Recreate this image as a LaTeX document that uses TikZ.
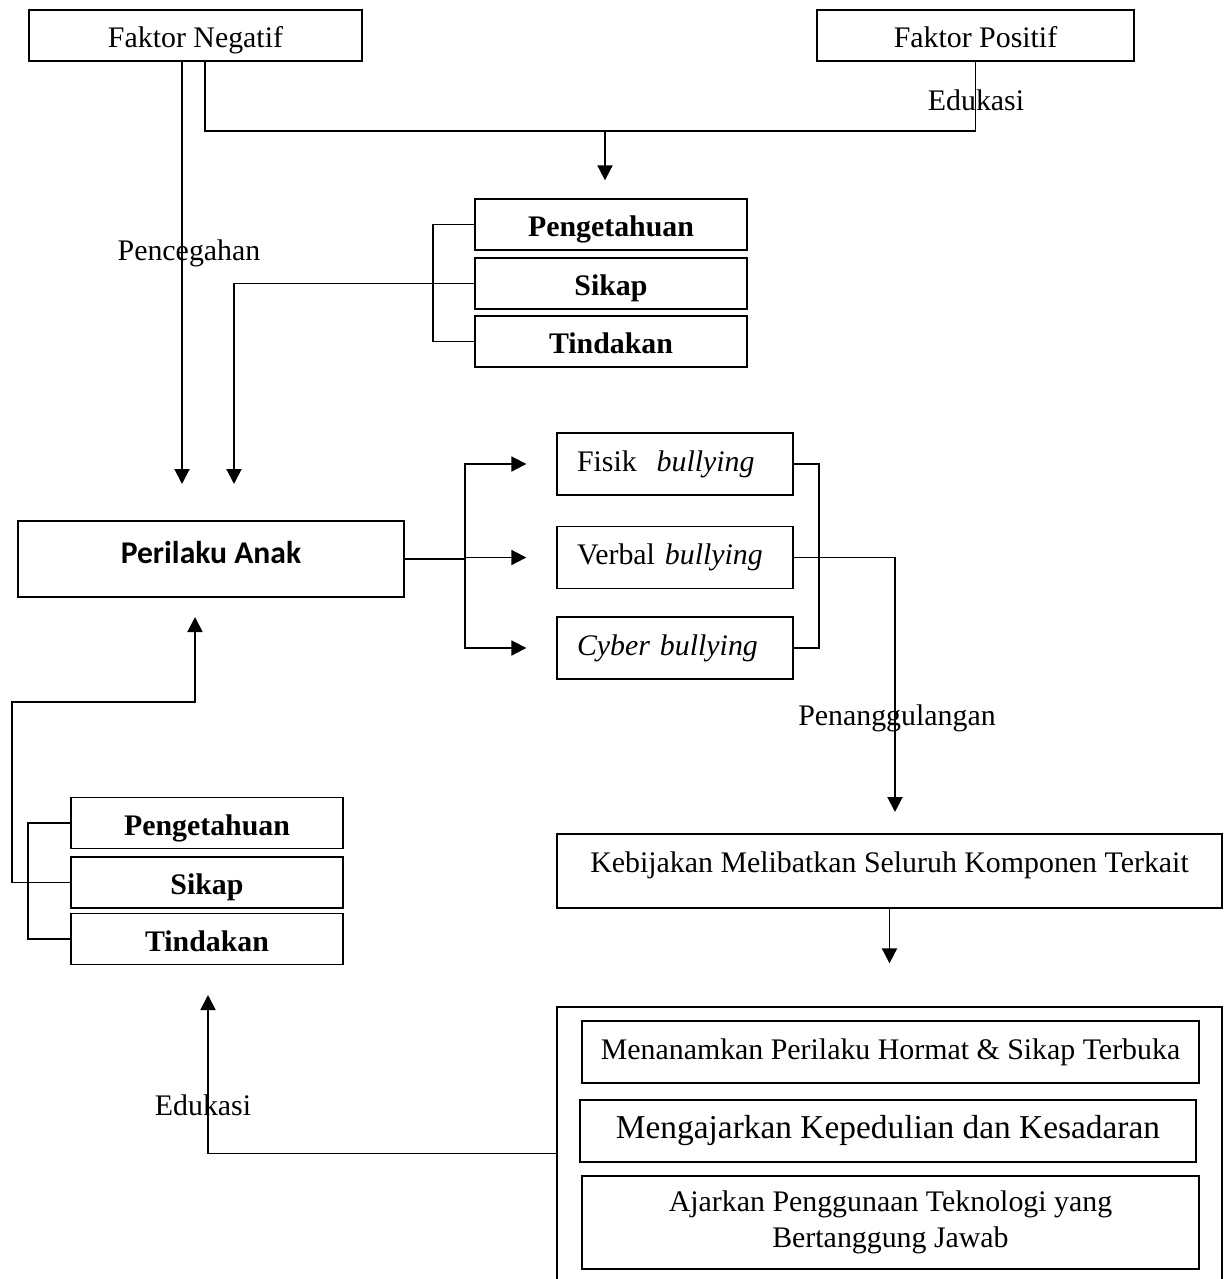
\documentclass[tikz,border=0pt]{standalone}
\usepackage{fontspec}
\setmainfont{Liberation Serif}
\newfontfamily\calibri{Carlito}
\usetikzlibrary{arrows.meta}

\begin{document}
\begin{tikzpicture}[
		x=0.02cm, y=-0.02cm,
		every node/.style={inner sep=0pt, font=\fontsize{17}{21}\selectfont},
		box/.style={draw, rectangle, line width=0.8pt},
		faktor/.style={box, minimum height=1.02cm, text height=17pt, text depth=3pt},
		pst/.style={box, minimum width=5.44cm, minimum height=1.02cm, text height=17pt, text depth=3pt, font=\fontsize{17}{21}\selectfont\bfseries},
		bully/.style={box, text width=3.92cm, inner xsep=0.4cm, minimum height=1.24cm, align=left},
		itembox/.style={box, minimum width=12.34cm, minimum height=1.24cm},
		link/.style={line width=1.1pt},
		arr/.style={link, -{Triangle[length=0.3cm, width=0.3cm]}}
	]
  \useasboundingbox (0,0) rectangle (1230,1279);
  \node (neg) [faktor, minimum width=6.66cm] at (195.5,35.5) {Faktor Negatif};
  \node (pos) [faktor, minimum width=6.34cm] at (975.5,35.5) {Faktor Positif};
  \node (pst_p) [pst] at (611,224.5) {Pengetahuan};
  \node (pst_s) [pst] at (611,283.5) {Sikap};
  \node (pst_t) [pst] at (611,341.5) {Tindakan};
  \node (perilaku) [box, minimum width=7.72cm, minimum height=1.52cm, text height=13pt, text depth=8.2pt, font=\fontsize{18}{22}\calibri\bfseries] at (211,559) {Perilaku Anak};
  \node (fisik) [bully] at (675,464) {Fisik\ \ \textit{bullying}};
  \node (verbal) [bully] at (675,557.5) {Verbal \textit{bullying}};
  \node (cyber) [bully] at (675,648) {\textit{Cyber bullying}};
  \node (kebijakan) [box, minimum width=13.3cm, minimum height=1.48cm, text height=12pt, text depth=9.9pt] at (889.5,871) {Kebijakan Melibatkan Seluruh Komponen Terkait};
  \node (strategi) [box, minimum width=13.3cm, minimum height=5.86cm] at (889.5,1153.5) {};
  \node (tanam) [itembox] at (890.5,1052) {Menanamkan Perilaku Hormat \& Sikap Terbuka};
  \node (ajar) [itembox, minimum width=12.32cm, font=\fontsize{19}{23}\selectfont] at (888,1131) {Mengajarkan Kepedulian dan Kesadaran};
  \node (teknologi) [itembox, minimum height=1.86cm, align=center, font=\fontsize{17}{20.5}\selectfont] at (890.5,1222.5) {Ajarkan Penggunaan Teknologi yang\\Bertanggung Jawab};
  \node (pst2_p) [pst] at (207,823) {Pengetahuan};
  \node (pst2_s) [pst] at (207,882.5) {Sikap};
  \node (pst2_t) [pst] at (207,939) {Tindakan};
  % labels on the lines
  \node (l_edu1) at (976,100) {Edukasi};
  \node (l_cegah) at (189,253) {Pencegahan};
  \node (l_tanggulang) at (897,718) {Penanggulangan};
  \node (l_edu2) at (203,1105) {Edukasi};
  % bends and loose arrow tips
  \coordinate (p_tip) at (182,484);
  \coordinate (s_tip) at (234,484);
  \coordinate (m_l) at (205,131);
  \coordinate (m_a) at (605,131);
  \coordinate (br) at (465,559);
  \coordinate (k_tip) at (895,812);
  \coordinate (e_tip) at (208,995);
  \coordinate (a_bend) at (12,702);
  \coordinate (a_tip) at (195,617);
  \draw [arr] (neg.south -| p_tip) -- (p_tip);
  \draw [link] (neg.south -| m_l) -- (m_l) -- (pos.south |- m_l) -- (pos.south);
  \draw [arr, shorten >=0.36cm] (m_a) -- (m_a |- pst_p.north);
  \draw [link] (pst_p.west) -- ++(-41,0) |- (pst_t.west);
  \draw [arr] (pst_s.west) -| (s_tip);
  \draw [link] (perilaku.east) -- (br);
  \foreach \b in {fisik, verbal, cyber}
    \draw [arr, shorten >=0.6cm] (br) |- (\b.west);
  \draw [link] (fisik.east) -- ++(25,0) |- (cyber.east);
  \draw [arr] (verbal.east) -| (k_tip);
  \draw [arr, shorten >=0.86cm] (kebijakan.south) -- (kebijakan.south |- strategi.north);
  \draw [arr] (strategi.west) -| (e_tip);
  \draw [link] (pst2_p.west) -- ++(-42,0) |- (pst2_t.west);
  \draw [arr] (pst2_s.west) -| (a_bend) -| (a_tip);
\end{tikzpicture}
\end{document}
